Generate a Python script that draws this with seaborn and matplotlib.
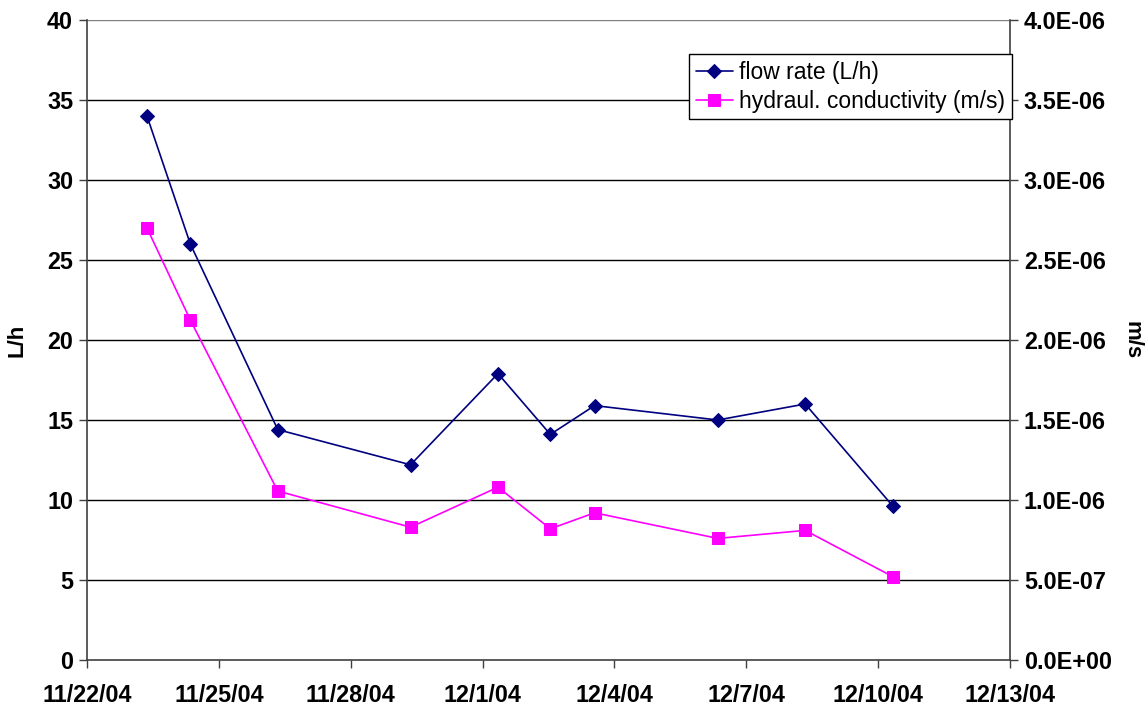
import numpy as np
import pandas as pd
import matplotlib
matplotlib.use("Agg")
import matplotlib.pyplot as plt
import matplotlib.dates as mdates
from matplotlib.ticker import FuncFormatter, MultipleLocator
import seaborn as sns

# sampling times
dates = pd.to_datetime([
    "2004-11-23 08:45", "2004-11-24 08:25", "2004-11-26 08:10",
    "2004-11-29 08:40", "2004-12-01 08:25", "2004-12-02 13:00",
    "2004-12-03 13:10", "2004-12-06 08:25", "2004-12-08 08:10",
    "2004-12-10 08:10",
])
flow_rate = [34.0, 26.0, 14.4, 12.2, 17.9, 14.1, 15.9, 15.0, 16.0, 9.6]            # L/h
conductivity = [2.70e-6, 2.125e-6, 1.056e-6, 8.3e-7, 1.08e-6, 8.2e-7,
                9.2e-7, 7.6e-7, 8.1e-7, 5.2e-7]                                    # m/s

df = pd.DataFrame({"date": dates, "flow": flow_rate, "k": conductivity})

sns.set_theme(style="white")
plt.rcParams["font.family"] = ["Liberation Sans", "DejaVu Sans"]
plt.rcParams["text.color"] = "black"

NAVY = "#000080"
MAGENTA = "#FF00FF"
TICK_FS = 16.8

fig = plt.figure(figsize=(11.48, 7.07), dpi=100)
fig.patch.set_facecolor("white")
ax = fig.add_axes([87 / 1148, 47 / 707, 923 / 1148, 640 / 707])
ax2 = ax.twinx()

sns.lineplot(data=df, x="date", y="flow", ax=ax, color=NAVY, marker="D",
             markersize=7.2, markeredgecolor=NAVY, linewidth=1.2,
             label="flow rate (L/h)", legend=False, zorder=5)
sns.lineplot(data=df, x="date", y="k", ax=ax2, color=MAGENTA, marker="s",
             markersize=9, markeredgecolor=MAGENTA, linewidth=1.2,
             label="hydraul. conductivity (m/s)", legend=False, zorder=5)

# axes limits / ticks
ax.set_xlim(pd.Timestamp("2004-11-22"), pd.Timestamp("2004-12-13"))
ax.xaxis.set_major_locator(mdates.DayLocator(bymonthday=[1, 4, 7, 10, 13, 22, 25, 28]))
ax.xaxis.set_major_formatter(FuncFormatter(
    lambda v, p: (lambda d: f"{d.month}/{d.day}/{d.strftime('%y')}")(mdates.num2date(v))))
ax.set_ylim(0, 40)
ax.yaxis.set_major_locator(MultipleLocator(5))
ax2.set_ylim(0, 4.0e-6)
ax2.yaxis.set_major_locator(MultipleLocator(5e-7))
ax2.yaxis.set_major_formatter(FuncFormatter(lambda v, p: f"{v:.1E}"))

# horizontal grid lines
ax.grid(False)
ax2.grid(False)
for yv in range(5, 41, 5):
    ax.axhline(yv, color="#000000" if yv < 40 else "#808080", linewidth=1, zorder=1)

for a in (ax, ax2):
    for s in a.spines.values():
        s.set_visible(False)
ax.spines["left"].set_visible(True)
ax.spines["left"].set_color("#404040")
ax.spines["bottom"].set_visible(True)
ax.spines["bottom"].set_color("#404040")
ax2.spines["right"].set_visible(True)
ax2.spines["right"].set_color("#404040")
for s in ("left", "bottom"):
    ax.spines[s].set_linewidth(1.2)
ax2.spines["right"].set_linewidth(1.2)

ax.tick_params(axis="both", which="major", direction="out", length=6, width=1,
               color="#404040", labelsize=TICK_FS, labelcolor="black",
               bottom=True, left=True, pad=4)
ax.tick_params(axis="x", pad=11)
ax2.tick_params(axis="y", direction="out", length=6, width=1, color="#404040",
                labelsize=TICK_FS, labelcolor="black", right=True, pad=4)
for lab in ax.get_xticklabels() + ax.get_yticklabels() + ax2.get_yticklabels():
    lab.set_fontweight("bold")

ax.set_xlabel("")
ax.set_ylabel("L/h", fontsize=16, fontweight="bold", color="black")
ax2.set_ylabel("m/s", fontsize=16, fontweight="bold", color="black", rotation=-90)
ax.yaxis.set_label_coords(-60 / 923, 0.5)
ax2.yaxis.set_label_coords(1 + 132 / 923, 0.5)

h1, l1 = ax.get_legend_handles_labels()
h2, l2 = ax2.get_legend_handles_labels()
leg = fig.legend(h1 + h2, l1 + l2, loc="upper right",
                 bbox_to_anchor=(1012 / 1148, 1 - 54 / 707),
                 fontsize=16.5, frameon=True, fancybox=False, framealpha=1,
                 edgecolor="black", borderpad=0.3, labelspacing=0.25,
                 handlelength=1.6, handletextpad=0.28, borderaxespad=0)
leg.get_frame().set_linewidth(1)
for t in leg.get_texts():
    t.set_color("black")

fig.savefig("out.png", dpi=100, facecolor="white")
